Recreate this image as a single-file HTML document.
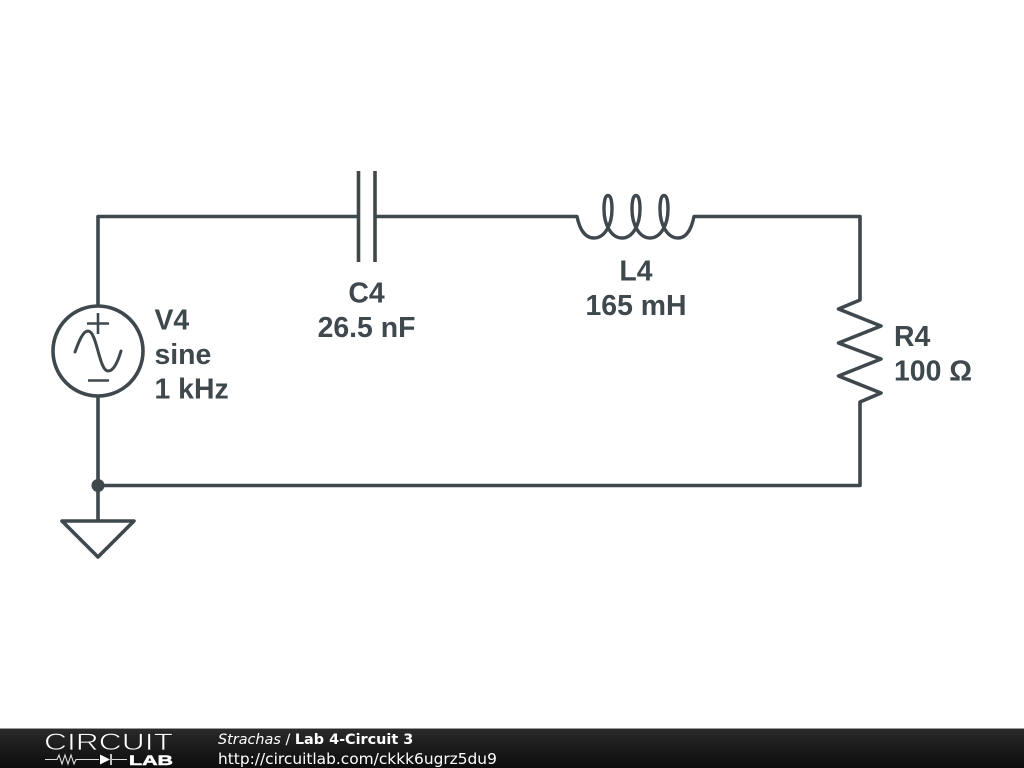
<!DOCTYPE html>
<html>
<head>
<meta charset="utf-8">
<style>
html,body{margin:0;padding:0;background:#fff;width:1024px;height:768px;overflow:hidden}
svg{display:block}
.l{font-family:"Liberation Sans",Arial,sans-serif;font-weight:700;font-size:28.4px;fill:#3e484d}
.f{font-family:"DejaVu Sans",sans-serif;font-size:14.4px;fill:#fff}
</style>
</head>
<body>
<svg width="1024" height="768" viewBox="0 0 1024 768" xmlns="http://www.w3.org/2000/svg">
<defs>
<linearGradient id="g" x1="0" y1="0" x2="0" y2="1">
<stop offset="0" stop-color="#2a2a2a"/>
<stop offset="1" stop-color="#0c0c0c"/>
</linearGradient>
</defs>
<rect width="1024" height="768" fill="#fff"/>
<g fill="none" stroke="#3e484d" stroke-width="3.6" stroke-linecap="round" stroke-linejoin="round">
<path stroke-linecap="butt" d="M98 306V216.500H358M375 216.500H577M694 216.500H860V300L838.500 309L881 326L838.500 343L881 359L838.500 376L881 393L860 402V485.500H98M98 396V521"/>
<path stroke-linecap="butt" d="M358.500 171V262M375 171V262"/>
<path stroke-width="3.4" d="M577 216.500C580 231 586 238 594 238C604 238 612 226 612 209C612 200 610.500 195.500 608 195.500C605.500 195.500 604 200 604 209C604 226 612 238 622 238C632 238 640 226 640 209C640 200 638.500 195.500 636 195.500C633.500 195.500 632 200 632 209C632 226 640 238 650 238C660 238 668 226 668 209C668 200 666.500 195.500 664 195.500C661.500 195.500 660 200 660 209C660 226 668 238 678 238C686 238 691 231 694 216.500"/>
<circle cx="98" cy="351" r="45"/>
<path stroke-width="2.6" stroke-linecap="butt" d="M87 323.500H109M98 313V334M88 380.500H109"/>
<path stroke-width="3" d="M75 352C79 341 83 331 88 331C97 331 99 371 108 371C114 371 118 361 121 351"/>
<path d="M62 521H134L98 557Z"/>
</g>
<circle cx="98" cy="485.500" r="6.500" fill="#3e484d"/>
<text class="l" x="154.500" y="329.500">V4</text>
<text class="l" x="154.500" y="364">sine</text>
<text class="l" x="154.500" y="398.500">1 kHz</text>
<text class="l" x="366.500" y="302.500" text-anchor="middle">C4</text>
<text class="l" x="366.500" y="337" text-anchor="middle">26.5 nF</text>
<text class="l" x="636" y="280.500" text-anchor="middle">L4</text>
<text class="l" x="636" y="315" text-anchor="middle">165 mH</text>
<text class="l" x="894" y="346">R4</text>
<text class="l" x="894" y="380.500">100 Ω</text>
<rect x="0" y="728" width="1024" height="1" fill="#9a9a9a"/>
<rect x="0" y="729" width="1024" height="39" fill="url(#g)"/>
<text x="44" y="750" font-family="Liberation Sans,sans-serif" font-size="24" fill="#fff" stroke="#1d1d1d" stroke-width="0.7" textLength="129" lengthAdjust="spacingAndGlyphs">CIRCUIT</text>
<text x="129" y="765" font-family="Liberation Sans,sans-serif" font-weight="700" font-size="14" fill="#fff" stroke="#fff" stroke-width="0.5" textLength="44" lengthAdjust="spacingAndGlyphs">LAB</text>
<path d="M45 759.500H57L59 755L62 764L65 755L68 764L71 755L74 764L76 759.500H99M112 759.500H127" fill="none" stroke="#ddd" stroke-width="1.1"/>
<path d="M100 754.500L110 759.500L100 764.500Z" fill="#fff"/>
<path d="M111 754V765" stroke="#fff" stroke-width="1.500"/>
<text class="f" x="218" y="744"><tspan font-style="italic">Strachas</tspan> / <tspan font-weight="700">Lab 4-Circuit 3</tspan></text>
<text class="f" style="font-size:15.4px" x="218" y="764">http://circuitlab.com/ckkk6ugrz5du9</text>
</svg>
</body>
</html>
